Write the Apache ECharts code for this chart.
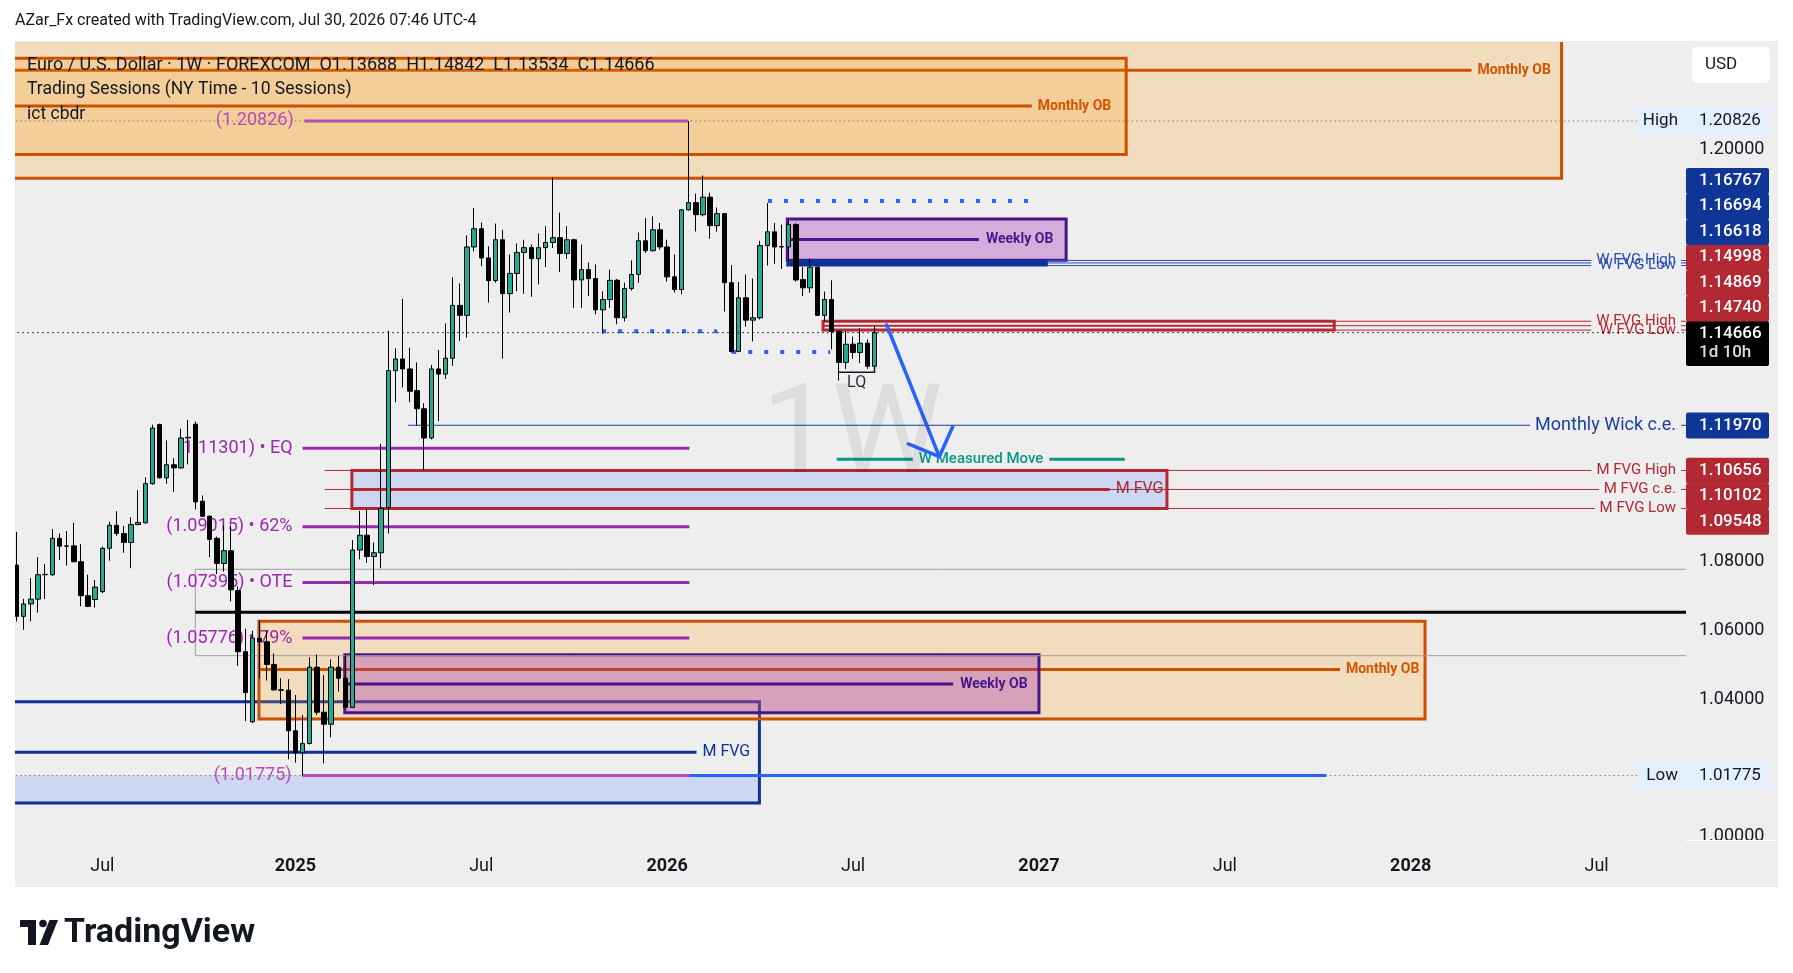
<!DOCTYPE html>
<html>
<head>
<meta charset="utf-8">
<script src="https://cdn.jsdelivr.net/npm/echarts@6.0.0/dist/echarts.min.js"></script>
<style>
html,body{margin:0;padding:0;background:#fff;overflow:hidden}
#chart{width:1793px;height:973px}
</style>
</head>
<body>
<div id="chart"></div>
<script>
// ================= DATA =================
const firstWeek = '2024-04-08';   // Monday of first weekly candle
const totalWeeks = 234;           // visible weekly slots (incl. future)

const opens = [
1.0790,1.0641,1.0677,1.0691,1.0762,1.0762,1.0868,1.0845,1.0846,1.0800,
1.0701,1.0690,1.0713,1.0839,1.0906,1.0882,1.0856,1.0908,1.0913,1.1027,
1.1199,1.1044,1.1082,1.1073,1.1160,1.1200,1.0976,1.0932,1.0868,1.0795,
1.0832,1.0716,1.0538,1.0334,1.0577,1.0567,1.0501,1.0427,1.0426,1.0308,
1.0244,1.0271,1.0493,1.0362,1.0327,1.0493,1.0461,1.0376,1.0834,1.0877,
1.0815,1.0826,1.0957,1.1356,1.1390,1.1361,1.1298,1.1245,1.1160,1.1361,
1.1346,1.1392,1.1546,1.1517,1.1716,1.1769,1.1684,1.1618,1.1737,1.1580,
1.1639,1.1700,1.1714,1.1682,1.1714,1.1729,1.1743,1.1697,1.1737,1.1620,
1.1650,1.1624,1.1533,1.1563,1.1619,1.1510,1.1595,1.1636,1.1734,1.1705,
1.1766,1.1716,1.1629,1.1592,1.1824,1.1845,1.1810,1.1861,1.1778,1.1813,
1.1612,1.1412,1.1568,1.1503,1.1510,1.1720,1.1760,1.1716,1.1716,1.1781,
1.1621,1.1597,1.1657,1.1517,1.1563,1.1470,1.1380,1.1433,1.1409,1.1436,
1.13688];
const closes = [
1.0641,1.0677,1.0691,1.0762,1.0763,1.0868,1.0845,1.0846,1.0800,1.0701,
1.0670,1.0726,1.0839,1.0906,1.0882,1.0856,1.0908,1.0914,1.1027,1.1189,
1.1044,1.1082,1.1073,1.1160,1.1162,1.0974,1.0932,1.0865,1.0795,1.0832,
1.0718,1.0538,1.0419,1.0578,1.0567,1.0501,1.0427,1.0426,1.0308,1.0244,
1.0271,1.0493,1.0362,1.0327,1.0493,1.0461,1.0376,1.0834,1.0877,1.0815,
1.0826,1.0955,1.1356,1.1390,1.1361,1.1296,1.1245,1.1160,1.1361,1.1346,
1.1392,1.1546,1.1517,1.1716,1.1769,1.1684,1.1618,1.1737,1.1580,1.1639,
1.1700,1.1714,1.1682,1.1714,1.1729,1.1743,1.1697,1.1737,1.1620,1.1650,
1.1624,1.1533,1.1563,1.1619,1.1510,1.1595,1.1636,1.1734,1.1705,1.1766,
1.1716,1.1629,1.1592,1.1824,1.1845,1.1810,1.1861,1.1778,1.1813,1.1612,
1.1412,1.1568,1.1503,1.1510,1.1720,1.1760,1.1716,1.1717,1.1781,1.1620,
1.1597,1.1657,1.1517,1.1563,1.1470,1.1380,1.1433,1.1409,1.1436,1.13688,
1.14666];
const lows = [
1.0626,1.0602,1.0626,1.0652,1.0691,1.0758,1.0805,1.0789,1.0798,1.0670,
1.0668,1.0667,1.0708,1.0803,1.0875,1.0826,1.0781,1.0906,1.0911,1.1024,
1.1042,1.1027,1.1003,1.1071,1.1083,1.0952,1.0931,1.0813,1.0764,1.0771,
1.0684,1.0497,1.0336,1.0330,1.0461,1.0454,1.0425,1.0386,1.0225,1.0215,
1.01775,1.0268,1.0354,1.0213,1.0289,1.0422,1.0375,1.0374,1.0807,1.0797,
1.0732,1.0781,1.0882,1.1264,1.1307,1.1264,1.1196,1.1066,1.1156,1.1209,
1.1332,1.1370,1.1442,1.1452,1.1703,1.1660,1.1554,1.1612,1.1391,1.1525,
1.1587,1.1580,1.1571,1.1607,1.1658,1.1713,1.1643,1.1682,1.1539,1.1539,
1.1573,1.1520,1.1464,1.1539,1.1491,1.1499,1.1589,1.1612,1.1699,1.1703,
1.1708,1.1615,1.1583,1.1578,1.1822,1.1761,1.1805,1.1740,1.1761,1.1528,
1.1408,1.1410,1.1484,1.1441,1.1505,1.1662,1.1667,1.1652,1.1675,1.1615,
1.1573,1.1583,1.1515,1.1499,1.1418,1.1327,1.1361,1.1390,1.1378,1.1361,
1.13534];
const highs = [
1.0887,1.0692,1.0752,1.0813,1.0793,1.0895,1.0882,1.0889,1.0914,1.0851,
1.0762,1.0747,1.0844,1.0916,1.0947,1.0904,1.0929,1.1008,1.1045,1.1199,
1.1202,1.1153,1.1101,1.1187,1.1213,1.1208,1.0993,1.0935,1.0873,1.0906,
1.0906,1.0728,1.0605,1.0599,1.0630,1.0599,1.0533,1.0461,1.0458,1.0412,
1.0354,1.0522,1.0530,1.0470,1.0516,1.0526,1.0528,1.0863,1.0948,1.0952,
1.0856,1.1143,1.1472,1.1421,1.1565,1.1423,1.1380,1.1261,1.1373,1.1416,
1.1493,1.1628,1.1610,1.1750,1.1829,1.1787,1.1718,1.1784,1.1766,1.1694,
1.1726,1.1737,1.1723,1.1755,1.1776,1.1918,1.1816,1.1776,1.1740,1.1723,
1.1671,1.1665,1.1587,1.1650,1.1623,1.1612,1.1677,1.1758,1.1800,1.1805,
1.1786,1.1737,1.1694,1.1826,1.20826,1.1871,1.1924,1.1874,1.1831,1.1815,
1.1663,1.1614,1.1636,1.1624,1.1734,1.1844,1.1786,1.1781,1.1792,1.1785,
1.1657,1.1682,1.1660,1.1586,1.1619,1.1472,1.1472,1.1455,1.1479,1.1447,
1.14842];

const priceTicks = [1.00, 1.04, 1.06, 1.08, 1.20];
const priceMin = 0.999, priceMax = 1.23125;

// ---- drawings, in (week index from first candle, price) ----
const PANE_LEFT = -2, PANE_RIGHT = 233.5;
// [fromWeek, toWeek, top, bottom, mid, midEndWeek]
const monthlyOB = [
  [PANE_LEFT, 216.1, 1.2600, 1.1916, 1.2230, 203.5],
  [PANE_LEFT, 155.2, 1.2265, 1.1985, 1.2126, 142.0],
  [33.9, 197.0, 1.0627, 1.0342, 1.0486, 185.1]
];
const weeklyOB = [
  [107.8, 146.8, 1.1797, 1.1677, 1.1738, 134.6],
  [45.9, 143.0, 1.0529, 1.0360, 1.0444, 131.0]
];
// [fromWeek, toWeek, high, c.e., low, ceEndWeek]
const mFvgUpper = [46.9, 160.9, 1.10656, 1.10102, 1.09548, 152.9];
const mFvgLower = [PANE_LEFT, 103.9, 1.03926, 1.02453, 1.0098, 95.1];
const mFvgLevelsFrom = 43.1;
// [fromWeek, toWeek, high, c.e., low]
const wFvgBlue = [107.8, 144.1, 1.16767, 1.16694, 1.16618];
const wFvgRed = [112.8, 184.3, 1.14998, 1.14869, 1.14740];
const monthlyWickCE = [54.75, 1.11970];
const fibFrom = 40.0, fibTo = 94.1;
const fibLevels = [1.11301, 1.09015, 1.07395, 1.05776];
const fibNames = ['EQ', '62%', 'OTE', '79%'];
const swingHigh = [40.3, 93.9, 1.20826];
const swingLow = [40.0, 183.2, 1.01775];
const oteBox = [25.0, 1.07779, 1.05264];
const blackLevel = [25.0, 1.06527];
const liquidityLines = [[105.1, 142.0, 1.18498], [81.9, 98.0, 1.1471], [100.1, 113.8, 1.14103]];
const lqBracket = [114.9, 120.0, 1.13512, 1.1366];
const lqText = [117.5, 1.1320];
const arrowLine = [[121.7, 1.14889], [129.06, 1.11056]];
const arrowHead = [[124.72, 1.11426], [129.06, 1.11056], [130.93, 1.11929]];
const measuredMove = [114.7, 155.0, 1.1098, 134.9];
const lastPrice = 1.14666;
const sessionHigh = 1.20826, sessionLow = 1.01775;

// ================= BUILD =================
const weekDates = [];
const t0 = Date.parse(firstWeek + 'T00:00:00Z');
for (let i = 0; i < totalWeeks; i++) weekDates.push(new Date(t0 + i * 7 * 864e5).toISOString().slice(0, 10));
const candles = opens.map((o, i) => [o, closes[i], lows[i], highs[i]]);

const FF = 'Roboto, "Noto Sans", sans-serif';
const C_TEXT = '#131722', C_ORANGE = '#cc5000', C_PURPLE = '#4a148c', C_RED = '#b22833',
      C_NAVY = '#0c3299', C_FIB = '#9c27b0', C_BLUE = '#2962ff', C_GREEN = '#089981';

const mctx = document.createElement('canvas').getContext('2d');
function textW(t, font) { mctx.font = font; return mctx.measureText(t).width; }

function mkHelpers(api) {
  const x0 = api.coord([0, 1.1])[0], bw = api.size([1, 0])[0];
  const X = i => x0 + i * bw;
  const Y = p => api.coord([0, p])[1];
  const els = [];
  const R = (a, b, pt, pb, style) => { const y1 = Y(pt), y2 = Y(pb);
    els.push({type: 'rect', shape: {x: X(a), y: Math.min(y1, y2), width: X(b) - X(a), height: Math.abs(y2 - y1)}, style}); };
  const Lp = (xa, ya, xb, yb, style) => els.push({type: 'line', shape: {x1: xa, y1: ya, x2: xb, y2: yb}, style});
  const H = (a, b, p, style) => Lp(X(a), Y(p), X(b), Y(p), style);
  const T = (x, y, text, font, fill, align) => els.push({type: 'text', x, y,
    style: {text, font, fill, align: align || 'left', textAlign: align || 'left', verticalAlign: 'middle', textVerticalAlign: 'middle'}});
  return {X, Y, els, R, Lp, H, T};
}

function renderZones(params, api) {
  const {X, Y, els, R, Lp, H, T} = mkHelpers(api);
  const paneR = X(PANE_RIGHT), labelRight = paneR - 10;
  const sideLine = (from, p, label, color, font, w, lw) => {
    const y = Y(p);
    Lp(X(from), y, labelRight - w - 5, y, {stroke: color, lineWidth: lw});
    Lp(labelRight + 5, y, paneR, y, {stroke: color, lineWidth: lw});
    if (label) T(labelRight, y, label, font, color, 'right');
  };
  // lower-left M FVG
  R(mFvgLower[0], mFvgLower[1], swingLow[2], mFvgLower[4], {fill: 'rgba(41,98,255,0.17)'});
  R(mFvgLower[0], mFvgLower[1], mFvgLower[2], mFvgLower[4], {fill: 'none', stroke: C_NAVY, lineWidth: 3});
  H(mFvgLower[0], mFvgLower[5], mFvgLower[3], {stroke: C_NAVY, lineWidth: 3});
  T(X(mFvgLower[5]) + 6, Y(mFvgLower[3]), 'M FVG', '16px ' + FF, C_NAVY);
  // M FVG levels (thin)
  const f15 = '15px ' + FF;
  const mw = textW('M FVG High', f15);
  sideLine(mFvgLevelsFrom, mFvgUpper[2], 'M FVG High', C_RED, f15, mw, 1);
  sideLine(mFvgLevelsFrom, mFvgUpper[3], 'M FVG c.e.', C_RED, f15, textW('M FVG c.e.', f15), 1);
  sideLine(mFvgLevelsFrom, mFvgUpper[4], 'M FVG Low', C_RED, f15, textW('M FVG Low', f15), 1);
  // upper M FVG box
  R(mFvgUpper[0], mFvgUpper[1], mFvgUpper[2], mFvgUpper[4], {fill: 'rgba(41,98,255,0.17)', stroke: C_RED, lineWidth: 3});
  H(mFvgUpper[0], mFvgUpper[5], mFvgUpper[3], {stroke: C_RED, lineWidth: 3});
  T(X(mFvgUpper[5]) + 6, Y(mFvgUpper[3]), 'M FVG', '16px ' + FF, C_RED);
  // Monthly OBs
  monthlyOB.forEach(b => {
    R(b[0], b[1], b[2], b[3], {fill: 'rgba(255,152,0,0.2)', stroke: C_ORANGE, lineWidth: 3});
    H(b[0], b[5], b[4], {stroke: C_ORANGE, lineWidth: 3});
    T(X(b[5]) + 6, Y(b[4]), 'Monthly OB', 'bold 14px ' + FF, '#d35400');
  });
  // Weekly OBs
  weeklyOB.forEach(b => {
    R(b[0], b[1], b[2], b[3], {fill: 'rgba(156,39,176,0.32)', stroke: C_PURPLE, lineWidth: 3});
    H(b[0], b[5], b[4], {stroke: C_PURPLE, lineWidth: 3});
    T(X(b[5]) + 7, Y(b[4]), 'Weekly OB', 'bold 14px ' + FF, C_PURPLE);
  });
  // W FVG blue
  const ww = textW('W FVG High', f15);
  sideLine(wFvgBlue[0], wFvgBlue[2], 'W FVG High', '#2a4db5', f15, ww, 1);
  sideLine(wFvgBlue[0], wFvgBlue[3], '', '#2a4db5', f15, ww, 1);
  sideLine(wFvgBlue[0], wFvgBlue[4], 'W FVG Low', '#2a4db5', f15, ww, 1);
  R(wFvgBlue[0], wFvgBlue[1], wFvgBlue[2], wFvgBlue[4], {fill: C_NAVY, stroke: C_NAVY, lineWidth: 2});
  // W FVG red
  sideLine(wFvgRed[0], wFvgRed[2], 'W FVG High', C_RED, f15, ww, 1);
  sideLine(wFvgRed[0], wFvgRed[3], '', C_RED, f15, ww, 1);
  sideLine(wFvgRed[0], wFvgRed[4], 'W FVG Low', C_RED, f15, ww, 1);
  R(wFvgRed[0], wFvgRed[1], wFvgRed[2], wFvgRed[4], {fill: 'rgba(255,255,255,0.35)', stroke: C_RED, lineWidth: 3});
  H(wFvgRed[0], wFvgRed[1], wFvgRed[3], {stroke: C_RED, lineWidth: 2});
  // Monthly wick c.e.
  const f18 = '18px ' + FF;
  sideLine(monthlyWickCE[0], monthlyWickCE[1], 'Monthly Wick c.e.', '#1c3f9e', f18, textW('Monthly Wick c.e.', f18), 1);
  // OTE box & black level
  R(oteBox[0], PANE_RIGHT + 1, oteBox[1], oteBox[2], {fill: 'none', stroke: '#9e9e9e', lineWidth: 1});
  H(blackLevel[0], PANE_RIGHT, blackLevel[1], {stroke: '#000', lineWidth: 3});
  // High / Low dotted
  H(PANE_LEFT, PANE_RIGHT, sessionHigh, {stroke: '#7a7a7a', lineWidth: 1, lineDash: [1.5, 3]});
  H(PANE_LEFT, PANE_RIGHT, sessionLow, {stroke: '#7a7a7a', lineWidth: 1, lineDash: [1.5, 3]});
  // swing low blue line + fib
  H(swingLow[0], swingLow[1], swingLow[2], {stroke: C_BLUE, lineWidth: 3});
  H(swingLow[0], fibTo, swingLow[2], {stroke: '#b54db8', lineWidth: 3});
  H(swingHigh[0], swingHigh[1], swingHigh[2], {stroke: '#b54db8', lineWidth: 3});
  const fibFont = '18px ' + FF;
  T(X(swingHigh[0]) - 11, Y(swingHigh[2]), '(' + swingHigh[2].toFixed(5) + ')', fibFont, '#b54db8', 'right');
  T(X(swingLow[0]) - 11, Y(swingLow[2]), '(' + swingLow[2].toFixed(5) + ')', fibFont, '#b54db8', 'right');
  fibLevels.forEach((p, k) => {
    H(fibFrom, fibTo, p, {stroke: C_FIB, lineWidth: 3});
    T(X(fibFrom) - 10, Y(p), '(' + p.toFixed(5) + ') \u2022 ' + fibNames[k], fibFont, C_FIB, 'right');
  });
  // liquidity dotted lines
  liquidityLines.forEach(l => H(l[0], l[1], l[2], {stroke: C_BLUE, lineWidth: 4, lineDash: [4, 12]}));
  return {type: 'group', children: els};
}

function renderDrawings(params, api) {
  const {X, Y, els, Lp, H, T} = mkHelpers(api);
  // last price dotted
  H(PANE_LEFT, PANE_RIGHT, lastPrice, {stroke: '#000', lineWidth: 1, lineDash: [1.5, 3.5]});
  // LQ bracket
  els.push({type: 'polyline', shape: {points: [[X(lqBracket[0]), Y(lqBracket[2])], [X(lqBracket[1]), Y(lqBracket[2])], [X(lqBracket[1]), Y(lqBracket[3])]]},
    style: {stroke: C_TEXT, lineWidth: 1.5, fill: 'none'}});
  T(X(lqText[0]), Y(lqText[1]), 'LQ', '16px ' + FF, '#2a2e39', 'center');
  // measured move
  const mmFont = '500 15px ' + FF;
  const mw = textW('W Measured Move', mmFont);
  const cx = X(measuredMove[3]), y = Y(measuredMove[2]);
  Lp(X(measuredMove[0]), y, cx - mw / 2 - 6, y, {stroke: C_GREEN, lineWidth: 3});
  Lp(cx + mw / 2 + 6, y, X(measuredMove[1]), y, {stroke: C_GREEN, lineWidth: 3});
  T(cx, y, 'W Measured Move', mmFont, C_GREEN, 'center');
  // arrow
  Lp(X(arrowLine[0][0]), Y(arrowLine[0][1]), X(arrowLine[1][0]), Y(arrowLine[1][1]), {stroke: C_BLUE, lineWidth: 3.5, lineCap: 'round'});
  els.push({type: 'polyline', shape: {points: arrowHead.map(q => [X(q[0]), Y(q[1])])},
    style: {stroke: C_BLUE, lineWidth: 3.5, fill: 'none', lineCap: 'round', lineJoin: 'round'}});
  return {type: 'group', children: els};
}

const chart = echarts.init(document.getElementById('chart'), null, {width: 1793, height: 973});
const option = {
  animation: false,
  backgroundColor: '#ffffff',
  grid: {left: 13, top: 42, width: 1673, height: 798},
  xAxis: {
    type: 'category', data: weekDates, boundaryGap: true,
    axisLine: {show: false}, axisTick: {show: false}, splitLine: {show: false},
    axisLabel: {
      interval: (i, v) => { const m = +v.slice(5, 7), d = +v.slice(8, 10); return (m === 1 || m === 7) && d <= 7; },
      formatter: v => (+v.slice(5, 7) === 1) ? '{y|' + v.slice(0, 4) + '}' : 'Jul',
      margin: 17, color: C_TEXT, fontSize: 18, fontFamily: FF,
      rich: {y: {fontWeight: 'bold', fontSize: 18, color: C_TEXT, fontFamily: FF}}
    }
  },
  yAxis: {
    type: 'value', position: 'right', min: priceMin, max: priceMax, scale: true,
    axisLine: {show: false}, axisTick: {show: false}, splitLine: {show: false},
    axisLabel: {customValues: priceTicks, formatter: v => v.toFixed(5), margin: 13, color: C_TEXT, fontSize: 18, fontFamily: FF}
  },
  series: [
    {type: 'custom', z: 2, clip: true, silent: true, renderItem: renderZones, data: [[0, 1.1]]},
    {type: 'candlestick', z: 3, silent: true, data: candles, barWidth: 5,
      itemStyle: {color: '#22ab94', color0: '#000000', borderColor: '#000000', borderColor0: '#000000', borderWidth: 1}},
    {type: 'custom', z: 4, clip: true, silent: true, renderItem: renderDrawings, data: [[0, 1.1]]}
  ]
};
chart.setOption(option);

// ----- graphics: frame, texts, price tags -----
const py = p => chart.convertToPixel({yAxisIndex: 0}, p);
const TAG_X = 1686, TAG_W = 83, TAG_H = 25.5;
function gText(x, y, text, font, fill, align, z) {
  return {type: 'text', x, y, z: z || 20, silent: true,
    style: {text, font, fill, align: align || 'left', textAlign: align || 'left', verticalAlign: 'middle', textVerticalAlign: 'middle'}};
}
const g = [];
g.push({type: 'rect', z: -5, silent: true, shape: {x: 15, y: 41, width: 1763, height: 846}, style: {fill: '#eeeeee'}});
// white margin left of the pane
g.push({type: 'rect', z: 50, silent: true, shape: {x: 0, y: 36, width: 15, height: 856}, style: {fill: '#ffffff'}});
g.push(gText(852, 441, '1W', '125px ' + FF, 'rgba(0,0,0,0.07)', 'center', 0));
g.push(gText(15, 21, 'AZar_Fx created with TradingView.com, Jul 30, 2026 07:46 UTC-4', '16px ' + FF, C_TEXT, 'left', 20));
g.push(gText(27, 65, 'Euro / U.S. Dollar \u00b7 1W \u00b7 FOREXCOM  O1.13688  H1.14842  L1.13534  C1.14666', '18px ' + FF, C_TEXT, 'left', 20));
g.push(gText(27, 90, 'Trading Sessions (NY Time - 10 Sessions)', '17.5px ' + FF, C_TEXT, 'left', 20));
g.push(gText(27, 115, 'ict cbdr', '17.5px ' + FF, C_TEXT, 'left', 20));
// cover the time-axis strip under the price scale
g.push({type: 'rect', z: 90, silent: true, shape: {x: 1686, y: 840.5, width: 92, height: 46.5}, style: {fill: '#eeeeee'}});
g.push({type: 'line', z: 91, silent: true, shape: {x1: 1686, y1: 840.5, x2: 1778, y2: 840.5}, style: {stroke: '#ffffff', lineWidth: 1}});
// USD button
g.push({type: 'rect', z: 90, silent: true, shape: {x: 1692, y: 47, width: 78, height: 36, r: 5}, style: {fill: '#ffffff'}});
g.push(gText(1705, 65, 'USD', '17px ' + FF, C_TEXT, 'left', 91));
// High / Low tags
[[sessionHigh, 'High'], [sessionLow, 'Low']].forEach(([p, name]) => {
  const y = py(p);
  g.push({type: 'rect', z: 90, silent: true, shape: {x: 1637, y: y - 13.5, width: 132, height: 27}, style: {fill: '#e3effd'}});
  g.push(gText(1678, y, name, '17px ' + FF, C_TEXT, 'right', 91));
  g.push(gText(1699, y, p.toFixed(5), '17px ' + FF, C_TEXT, 'left', 91));
});
// last price tag
const yLast = py(lastPrice);
const lastTop = yLast - 11.7, lastBottom = yLast + 33.3;
g.push({type: 'rect', z: 90, silent: true, shape: {x: TAG_X, y: lastTop, width: TAG_W, height: lastBottom - lastTop, r: 2}, style: {fill: '#000000'}});
g.push(gText(1699, yLast + 1, lastPrice.toFixed(5), '500 17px ' + FF, '#ffffff', 'left', 91));
g.push(gText(1699, yLast + 20, '1d 10h', '500 17px ' + FF, '#dddddd', 'left', 91));
// stacked tags above / below the last price
const above = [...wFvgRed.slice(2).map(p => [p, C_RED]), ...wFvgBlue.slice(2).map(p => [p, '#0f3597'])].sort((a, b) => a[0] - b[0]);
const below = [[monthlyWickCE[1], '#0f3597'], ...mFvgUpper.slice(2, 5).map(p => [p, C_RED])].sort((a, b) => b[0] - a[0]);
function pushTag(cy, p, col) {
  g.push({type: 'rect', z: 90, silent: true, shape: {x: TAG_X, y: cy - TAG_H / 2, width: TAG_W, height: TAG_H + 0.5, r: 2}, style: {fill: col}});
  g.push(gText(1699, cy, p.toFixed(5), '500 17px ' + FF, '#ffffff', 'left', 91));
}
let limit = lastTop;
above.forEach(([p, col]) => { const cy = Math.min(py(p), limit - TAG_H / 2); pushTag(cy, p, col); limit = cy - TAG_H / 2; });
limit = lastBottom;
below.forEach(([p, col]) => { const cy = Math.max(py(p), limit + TAG_H / 2); pushTag(cy, p, col); limit = cy + TAG_H / 2; });
// TradingView logo
g.push({type: 'rect', z: 20, silent: true, shape: {x: 20, y: 920, width: 16, height: 7}, style: {fill: C_TEXT}});
g.push({type: 'rect', z: 20, silent: true, shape: {x: 28, y: 920, width: 8, height: 25}, style: {fill: C_TEXT}});
g.push({type: 'circle', z: 20, silent: true, shape: {cx: 43, cy: 923.5, r: 3.8}, style: {fill: C_TEXT}});
g.push({type: 'polygon', z: 20, silent: true, shape: {points: [[39.5, 945], [49.5, 920], [58, 920], [48, 945]]}, style: {fill: C_TEXT}});
g.push(gText(64, 933, 'TradingView', 'bold 34px ' + FF, C_TEXT, 'left', 20));

chart.setOption({graphic: g});
</script>
</body>
</html>
